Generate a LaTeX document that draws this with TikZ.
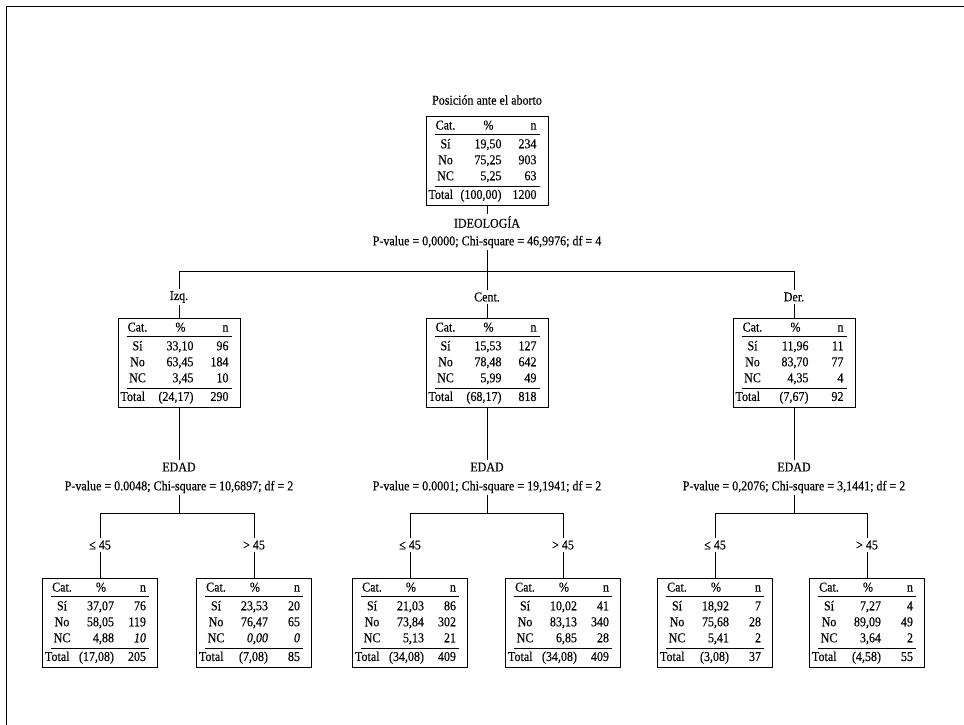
\documentclass[tikz,border=0pt]{standalone}
\usepackage{fontspec}
\setmainfont{Liberation Serif}[FakeStretch=0.89, FakeBold=0.3]
\usepackage{array}

\newlength{\colp}
\newlength{\coln}
\setlength{\colp}{39pt}
\setlength{\coln}{25pt}

% tabla de frecuencias de un nodo
\newcommand{\tabla}[8]{%
  \begin{tabular}{@{}w{c}{22pt}@{\hspace{6pt}}w{r}{\colp}@{\hspace{10pt}}w{r}{\coln}@{\hspace{3pt}}}
    Cat. & \%\hspace*{8pt} & n\hspace*{4pt}\\
    \hline\noalign{\vskip 2pt}
    Sí & #1 & #2\\
    No & #3 & #4\\
    NC & #5 & #6\\
    \noalign{\vskip 1pt}\hline\noalign{\vskip 1pt}
    \multicolumn{1}{@{}l@{\hspace{6pt}}}{\hspace*{-6pt}Total} & (#7) & #8
  \end{tabular}}

\begin{document}
\fontsize{13.5}{16}\selectfont
\setlength{\arrayrulewidth}{0.7pt}
\begin{tikzpicture}[x=1pt, y=-1pt,
    tabla/.style={draw, line width=0.7pt, inner xsep=8.5pt, inner ysep=2pt, anchor=north},
    tablab/.style={tabla, execute at begin node={\setlength{\colp}{35pt}\setlength{\coln}{22pt}}},
    etiq/.style={inner sep=2pt},
    rama/.style={line width=0.6pt}]
    \useasboundingbox (0,0) rectangle (964,725);
    \draw[line width=0.7pt] (6,725) -- (6,6) -- (964,6);

    % raiz
    \node[etiq] (titulo) at (487,100) {Posición ante el aborto};
    \node[tabla] (raiz) at (487,116) {\tabla{19,50}{234}{75,25}{903}{5,25}{63}{100,00}{1200}};
    \node[etiq] (ideo) at (487,222) {IDEOLOGÍA};
    \node[etiq] (pv0) at (487,242) {P-value = 0,0000; Chi-square = 46,9976; df = 4};
    \coordinate (b0) at (487,271);

    \draw[rama] (raiz) -- (ideo);
    \draw[rama] (pv0) -- (b0);

    % primer nivel
    \node[etiq] (izq) at (179,297) {Izq.};
    \node[etiq] (cent) at (487,297) {Cent.};
    \node[etiq] (der) at (794,297) {Der.};

    \draw[rama] (izq) -- (izq |- b0) -- (der |- b0) -- (der);
    \draw[rama] (b0) -- (cent);

    \node[tabla] (tizq) at (179,318) {\tabla{33,10}{96}{63,45}{184}{3,45}{10}{24,17}{290}};
    \node[tabla] (tcent) at (487,318) {\tabla{15,53}{127}{78,48}{642}{5,99}{49}{68,17}{818}};
    \node[tabla] (tder) at (794,318) {\tabla{11,96}{11}{83,70}{77}{4,35}{4}{7,67}{92}};

    \draw[rama] (izq) -- (tizq);
    \draw[rama] (cent) -- (tcent);
    \draw[rama] (der) -- (tder);

    \node[etiq] (edadi) at (179,467) {EDAD};
    \node[etiq] (edadc) at (487,467) {EDAD};
    \node[etiq] (edadd) at (794,467) {EDAD};
    \node[etiq] (pvi) at (179,487) {P-value = 0.0048; Chi-square = 10,6897; df = 2};
    \node[etiq] (pvc) at (487,487) {P-value = 0.0001; Chi-square = 19,1941; df = 2};
    \node[etiq] (pvd) at (794,487) {P-value = 0,2076; Chi-square = 3,1441; df = 2};

    \draw[rama] (tizq) -- (edadi);
    \draw[rama] (tcent) -- (edadc);
    \draw[rama] (tder) -- (edadd);

    \coordinate (b1) at (179,513);
    \coordinate (b2) at (487,513);
    \coordinate (b3) at (794,513);
    \draw[rama] (pvi) -- (b1);
    \draw[rama] (pvc) -- (b2);
    \draw[rama] (pvd) -- (b3);

    % segundo nivel
    \node[etiq] (le1) at (100,545) {≤ 45};
    \node[etiq] (gt1) at (254,545) {> 45};
    \node[etiq] (le2) at (410,545) {≤ 45};
    \node[etiq] (gt2) at (563,545) {> 45};
    \node[etiq] (le3) at (715,545) {≤ 45};
    \node[etiq] (gt3) at (867,545) {> 45};

    \draw[rama] (le1) -- (le1 |- b1) -- (gt1 |- b1) -- (gt1);
    \draw[rama] (le2) -- (le2 |- b2) -- (gt2 |- b2) -- (gt2);
    \draw[rama] (le3) -- (le3 |- b3) -- (gt3 |- b3) -- (gt3);

    \node[tablab] (tle1) at (100,578) {\tabla{37,07}{76}{58,05}{119}{4,88}{\textit{10}}{17,08}{205}};
    \node[tablab] (tgt1) at (254,578) {\tabla{23,53}{20}{76,47}{65}{\textit{0,00}}{\textit{0}}{7,08}{85}};
    \node[tablab] (tle2) at (410,578) {\tabla{21,03}{86}{73,84}{302}{5,13}{21}{34,08}{409}};
    \node[tablab] (tgt2) at (563,578) {\tabla{10,02}{41}{83,13}{340}{6,85}{28}{34,08}{409}};
    \node[tablab] (tle3) at (715,578) {\tabla{18,92}{7}{75,68}{28}{5,41}{2}{3,08}{37}};
    \node[tablab] (tgt3) at (867,578) {\tabla{7,27}{4}{89,09}{49}{3,64}{2}{4,58}{55}};

    \draw[rama] (le1) -- (tle1);
    \draw[rama] (gt1) -- (tgt1);
    \draw[rama] (le2) -- (tle2);
    \draw[rama] (gt2) -- (tgt2);
    \draw[rama] (le3) -- (tle3);
    \draw[rama] (gt3) -- (tgt3);
\end{tikzpicture}
\end{document}
